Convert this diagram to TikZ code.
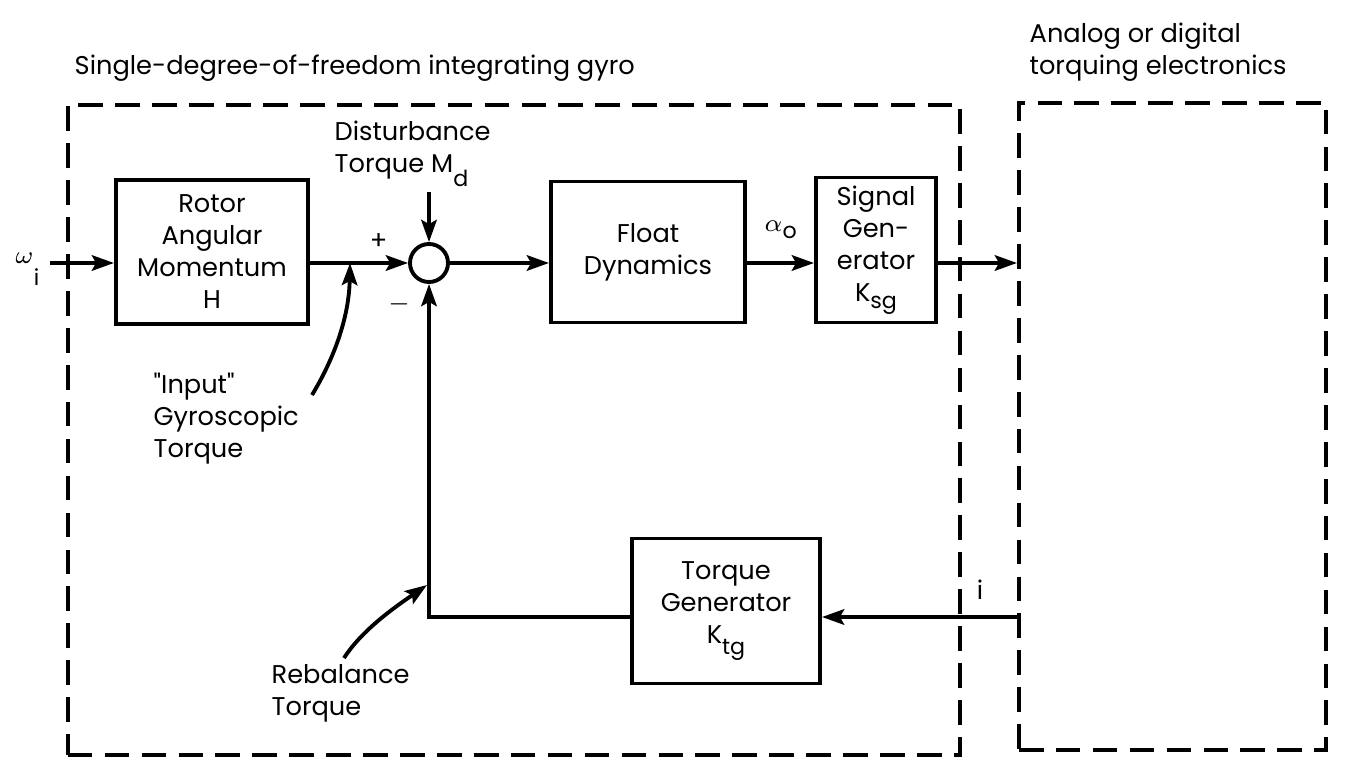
\documentclass[tikz,border=0pt]{standalone}
\usepackage{fontspec}
\setmainfont{Poppins}[Ligatures=TeXOff]
\usepackage{tikz}
\usetikzlibrary{positioning, calc, arrows.meta}
\newcommand{\gyrofont}{\fontsize{7.3}{9.1}\selectfont}
\newcommand{\lsub}[2][2pt]{\raisebox{-#1}{\fontsize{6.3}{6.3}\selectfont #2}}
\tikzset{
	blockbox/.style={draw, line width=1.1pt, align=center, inner sep=0pt, font=\gyrofont}
}
\tikzset{
	framebox/.style={draw, line width=1.1pt, dash pattern=on 7pt off 3.5pt}
}
\tikzset{
	sig/.style={line width=1.1pt, -{Stealth[length=6.3pt,width=4.4pt,inset=1.2pt]}}
}
\tikzset{
	lbltext/.style={font=\gyrofont, align=left, inner sep=0pt}
}

\begin{document}
\begin{tikzpicture}[x=0.01cm, y=-0.01cm, font=\gyrofont]
      \useasboundingbox (0,0) rectangle (1346,770);
      \node[framebox, minimum width=8.92cm, minimum height=6.50cm] (gyro) at (514,430) {};
      \node[framebox, minimum width=3.07cm, minimum height=6.47cm] (elec) at (1172.5,426.5) {};
      \node[lbltext, anchor=base west] (gyrotitle) at (74,75) {Single-degree-of-freedom integrating gyro};
      \node[lbltext, anchor=north west] (electitle) at (1029,22) {Analog or digital\\torquing electronics};
      \node[blockbox, minimum width=1.92cm, minimum height=1.44cm] (rotor) at (212,252) {Rotor\\Angular\\Momentum\\H};
      \node[draw, circle, line width=1.1pt, minimum size=0.38cm, inner sep=0pt] (sum) at (429,263) {};
      \node[blockbox, minimum width=1.94cm, minimum height=1.41cm] (float) at (648,252) {Float\\Dynamics};
      \node[blockbox, minimum width=1.20cm, minimum height=1.45cm] (sgen) at (876,250) {Signal\\Gen-\\erator\\K\lsub{sg}};
      \node[blockbox, minimum width=1.88cm, minimum height=1.45cm] (tgen) at (726,611) {Torque\\Generator\\K\lsub[3pt]{tg}};
      \node[lbltext, anchor=base east] (omega) at (40,263) {$\omega$\lsub[6.5pt]{i}};
      \node[lbltext, anchor=north west] (distlbl) at (334,120) {Disturbance\\Torque M\lsub[4pt]{d}};
      \node[lbltext, anchor=north west] (inlbl) at (153,372) {"Input"\\Gyroscopic\\Torque};
      \node[lbltext, anchor=north west] (reblbl) at (271,664) {Rebalance\\Torque};
      \coordinate (win) at (50,263);
      \coordinate (md) at (429,192);
      \coordinate (fbk) at (429,617);
      \coordinate (gyrotq) at (350,263);
      \coordinate (intail) at (312,395);
      \coordinate (rebtq) at (427,585);
      \coordinate (rebtail) at (344,658);
      \draw[sig] (win) -- (rotor.west |- win);
      \draw[sig] (rotor.east |- sum) -- node[above, pos=0.7] {+} (sum);
      \draw[sig] (md) -- (sum);
      \draw[sig] (sum) -- (float.west |- sum);
      \draw[sig] (float.east |- sum) -- node[above=3pt] {$\alpha$\lsub{o}} (sgen.west |- sum);
      \draw[sig] (sgen.east |- sum) -- (elec.west |- sum);
      \draw[sig] (elec.west |- fbk) -- node[pos=0.19, above=1pt] {i} (tgen.east |- fbk);
      \draw[sig] (tgen.west |- fbk) -- (fbk) -- node[pos=0.94, left=1.5pt] {$-$} (sum);
      \draw[sig] (intail) .. controls (332,362) and (349,320) .. (gyrotq);
      \draw[sig] (rebtail) .. controls (362,630) and (395,607) .. (rebtq);
    \end{tikzpicture}
\end{document}
